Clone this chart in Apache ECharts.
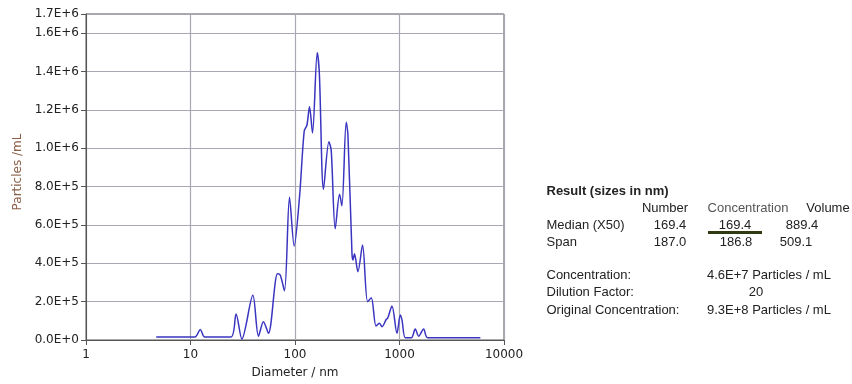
<!DOCTYPE html>
<html><head><meta charset="utf-8">
<script src="https://cdn.jsdelivr.net/npm/echarts@6/dist/echarts.min.js"></script>
<style>html,body{margin:0;padding:0;background:#fff}#c{width:852px;height:384px}</style>
</head><body><div id="c"></div>
<script>
// Diameter (nm) and concentration (particles/mL)
const diameters = [4.7, 11.0, 12.4, 13.7, 24.3, 27.3, 31.0, 39.5, 44.7, 49.9, 55.7, 68.0, 72.2, 79.3, 88.6, 98.2, 110.5, 122.5, 130, 137.7, 147, 163.2, 171, 187.5, 211, 222, 242.7, 267, 281, 309, 321, 351, 359, 371, 400, 443, 495, 537, 596, 641, 680, 748, 770, 847, 946, 1018, 1057, 1136, 1298, 1416, 1524, 1702, 1858, 5940];
const particles = [0.15e5, 0.15e5, 0.55e5, 0.15e5, 0.15e5, 1.36e5, 0.05e5, 2.33e5, 0.2e5, 0.95e5, 0.35e5, 3.45e5, 3.39e5, 2.57e5, 7.44e5, 4.9e5, 7.47e5, 10.9e5, 11.2e5, 12.16e5, 10.8e5, 14.98e5, 13.9e5, 7.86e5, 10.34e5, 9.9e5, 5.8e5, 7.6e5, 7.0e5, 11.35e5, 10.7e5, 4.5e5, 4.17e5, 4.5e5, 3.56e5, 4.95e5, 2.0e5, 2.2e5, 0.73e5, 0.87e5, 0.69e5, 1.08e5, 1.13e5, 1.77e5, 0.35e5, 1.3e5, 1.04e5, 0.12e5, 0.12e5, 0.57e5, 0.2e5, 0.57e5, 0.12e5, 0.12e5];
const xTicks = ['1', '10', '100', '1000', '10000'];
const tableHeader = ['Number', 'Concentration', 'Volume'];
const medianRow = ['169.4', '169.4', '889.4'];
const spanRow = ['187.0', '186.8', '509.1'];
const infoLabels = ['Concentration:', 'Dilution Factor:', 'Original Concentration:'];
const infoValues = ['4.6E+7 Particles / mL', '20', '9.3E+8 Particles / mL'];

function sci(v) {
  if (v === 0) return '0.0E+0';
  const e = Math.floor(Math.log10(v) + 1e-9);
  const m = v / Math.pow(10, e);
  return m.toFixed(1) + 'E+' + e;
}
const chart = echarts.init(document.getElementById('c'));
const tf = 'Liberation Sans, Arial, sans-serif';
const txt = (x, y, s, opt) => Object.assign({type: 'text', x: x, y: y, style: Object.assign({text: s, fontFamily: tf, fontSize: 13, fill: '#222', textVerticalAlign: 'middle'}, opt || {})});
const graphics = [
  txt(546.5, 191.5, 'Result (sizes in nm)', {fontWeight: 'bold'}),
  txt(665, 208.5, tableHeader[0], {textAlign: 'center'}),
  txt(748, 208.5, tableHeader[1], {textAlign: 'center', fill: '#555'}),
  txt(828, 208.5, tableHeader[2], {textAlign: 'center'}),
  txt(546.5, 225, 'Median (X50)'),
  txt(670, 225, medianRow[0], {textAlign: 'center'}),
  txt(735, 225, medianRow[1], {textAlign: 'center'}),
  txt(802, 225, medianRow[2], {textAlign: 'center'}),
  {type: 'rect', shape: {x: 708, y: 231, width: 54, height: 3}, style: {fill: '#2f3a12'}},
  txt(546.5, 242.5, 'Span'),
  txt(670, 242.5, spanRow[0], {textAlign: 'center'}),
  txt(736, 242.5, spanRow[1], {textAlign: 'center'}),
  txt(796, 242.5, spanRow[2], {textAlign: 'center'}),
  txt(546.5, 275, infoLabels[0]),
  txt(707, 275, infoValues[0]),
  txt(546.5, 292.5, infoLabels[1]),
  txt(756, 292.5, infoValues[1], {textAlign: 'center'}),
  txt(546.5, 310, infoLabels[2]),
  txt(707, 310, infoValues[2])
];
chart.setOption({
  animation: false,
  grid: {left: 86, right: 348, top: 14, bottom: 44, show: true, borderColor: '#555', borderWidth: 1},
  xAxis: {
    type: 'log', logBase: 10, min: 1, max: 10000,
    name: 'Diameter / nm', nameLocation: 'middle', nameGap: 27,
    nameTextStyle: {fontFamily: 'DejaVu Sans', fontSize: 12, color: '#222'},
    axisLine: {lineStyle: {color: '#555', width: 1}},
    axisTick: {show: true, length: 5, lineStyle: {color: '#555'}},
    minorTick: {show: false},
    axisLabel: {fontFamily: 'DejaVu Sans', fontSize: 12, color: '#222', margin: 9,
      formatter: v => xTicks[Math.round(Math.log10(v))]},
    splitLine: {show: true, lineStyle: {color: '#a8a8b4', width: 1.2}}
  },
  yAxis: {
    type: 'value', min: 0, max: 1.7e6, interval: 2e5,
    name: 'Particles /mL', nameLocation: 'middle', nameGap: 62, nameRotate: 90,
    nameTextStyle: {fontFamily: 'DejaVu Sans', fontSize: 12, color: '#8a6048', padding: [0, 0, 0, 10]},
    axisLine: {show: true, lineStyle: {color: '#555', width: 1}},
    axisTick: {show: true, length: 5, lineStyle: {color: '#555'}},
    axisLabel: {fontFamily: 'DejaVu Sans', fontSize: 12, color: '#222', margin: 7, formatter: sci, showMaxLabel: true},
    splitLine: {show: true, lineStyle: {color: '#a8a8b4', width: 1.2}}
  },
  series: [{
    type: 'line', smooth: 0.3, symbol: 'none',
    data: diameters.map((d, i) => [d, particles[i]]),
    lineStyle: {color: '#3a35c0', width: 1.5}
  }],
  graphic: graphics
});
</script></body></html>
